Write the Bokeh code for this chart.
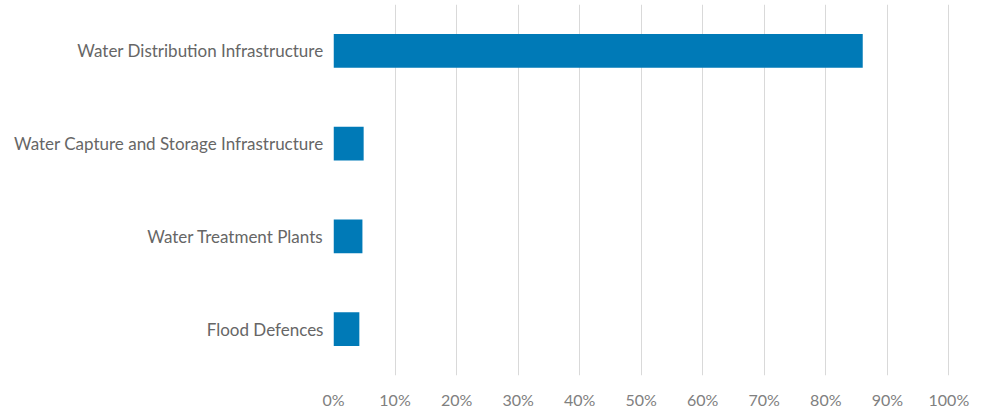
from bokeh.plotting import figure
from bokeh.models import FactorRange, Range1d, FixedTicker
from bokeh.embed import file_html
from bokeh.resources import INLINE

categories = ["Water Distribution Infrastructure",
              "Water Capture and Storage Infrastructure",
              "Water Treatment Plants",
              "Flood Defences"]
values = [86.0, 4.9, 4.7, 4.2]
tick_values = [0, 10, 20, 30, 40, 50, 60, 70, 80, 90, 100]
tick_labels = ["0%", "10%", "20%", "30%", "40%", "50%", "60%", "70%", "80%", "90%", "100%"]

p = figure(width=982, height=411, output_backend="svg", toolbar_location=None,
           y_range=FactorRange(factors=list(reversed(categories)), range_padding=0),
           x_range=Range1d(0, 104),
           min_border_left=333, min_border_right=9, min_border_top=4, min_border_bottom=33)
p.outline_line_color = None
p.background_fill_color = "white"
p.border_fill_color = "white"

p.hbar(y=categories, right=values, left=0, height=0.365, color="#007ab7", line_color=None)

p.xaxis.ticker = FixedTicker(ticks=tick_values)
p.xaxis.major_label_overrides = {v: l for v, l in zip(tick_values, tick_labels)}
p.xaxis.axis_line_color = None
p.xaxis.major_tick_line_color = None
p.xaxis.minor_tick_line_color = None
p.xaxis.major_label_standoff = 8
p.xaxis.major_label_text_font = "Lato"
p.xaxis.major_label_text_font_size = "16px"
p.xaxis.major_label_text_color = "#808080"

p.yaxis.axis_line_color = None
p.yaxis.major_tick_line_color = None
p.yaxis.minor_tick_line_color = None
p.yaxis.major_label_standoff = 4
p.yaxis.major_label_text_font = "Lato"
p.yaxis.major_label_text_font_size = "17px"
p.yaxis.major_label_text_color = "#666666"

p.ygrid.grid_line_color = None
p.xgrid.grid_line_color = "#d9d9d9"
p.xgrid.grid_line_width = 1

open("out.html", "w").write(file_html(p, INLINE))
